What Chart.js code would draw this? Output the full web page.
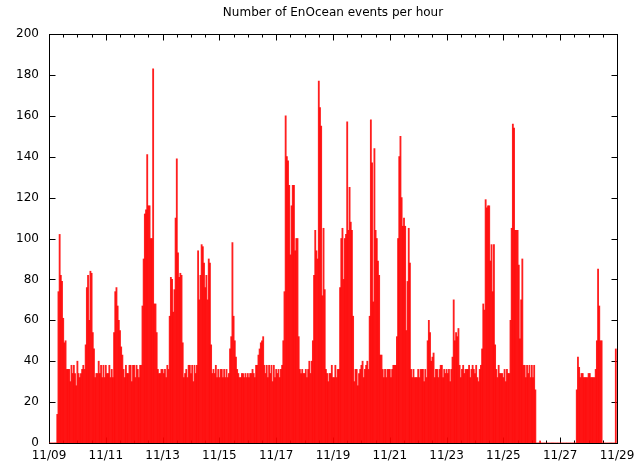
<!DOCTYPE html>
<html>
<head>
<meta charset="utf-8">
<script src="https://cdn.jsdelivr.net/npm/chart.js@4.4.1/dist/chart.umd.min.js"></script>
<style>
  html, body { margin: 0; padding: 0; background: #fff; }
  #chart { display: block; }
</style>
</head>
<body>
<canvas id="chart" width="642" height="465"></canvas>
<script>
// events per hour, one array per day (hour 0..23)
const nov09 = [0, 0, 0, 0, 0, 0, 0, 14, 74, 102, 82, 79, 61, 49, 50, 36, 36, 36, 30, 38, 34, 38, 34, 28];
const nov10 = [40, 34, 32, 34, 36, 38, 36, 48, 76, 82, 60, 84, 83, 54, 46, 32, 34, 34, 40, 34, 38, 32, 38, 32];
const nov11 = [38, 34, 34, 38, 32, 36, 32, 54, 74, 76, 67, 60, 55, 47, 43, 36, 32, 38, 34, 34, 38, 38, 30, 38];
const nov12 = [38, 32, 38, 36, 32, 38, 38, 67, 90, 112, 114, 141, 116, 116, 100, 100, 183, 68, 68, 54, 36, 34, 34, 36];
const nov13 = [36, 34, 36, 32, 38, 36, 62, 81, 80, 64, 75, 110, 139, 93, 81, 83, 82, 49, 32, 34, 36, 32, 38, 38];
const nov14 = [34, 38, 30, 38, 34, 38, 94, 70, 82, 97, 96, 88, 76, 82, 70, 90, 88, 48, 34, 36, 34, 38, 32, 36];
const nov15 = [32, 36, 36, 32, 36, 32, 36, 32, 34, 46, 52, 98, 62, 50, 42, 36, 34, 32, 32, 34, 34, 32, 34, 32];
const nov16 = [34, 32, 34, 34, 36, 34, 32, 38, 38, 43, 46, 49, 50, 52, 38, 34, 38, 32, 38, 34, 38, 30, 38, 32];
const nov17 = [36, 34, 36, 32, 36, 38, 50, 74, 160, 140, 138, 126, 92, 116, 126, 126, 94, 100, 100, 52, 36, 34, 36, 34];
const nov18 = [34, 36, 32, 36, 40, 34, 40, 50, 82, 104, 94, 90, 177, 164, 155, 72, 105, 75, 36, 34, 30, 34, 34, 38];
const nov19 = [32, 32, 38, 32, 36, 36, 76, 100, 105, 80, 100, 102, 157, 104, 125, 108, 104, 62, 30, 36, 36, 28, 34, 36];
const nov20 = [38, 40, 32, 36, 38, 40, 36, 62, 158, 137, 69, 144, 104, 100, 89, 82, 43, 43, 36, 32, 36, 32, 36, 36];
const nov21 = [36, 32, 36, 38, 38, 38, 52, 100, 140, 150, 120, 106, 110, 106, 55, 79, 105, 88, 36, 32, 36, 32, 32, 32];
const nov22 = [36, 32, 36, 36, 36, 30, 36, 32, 50, 60, 54, 40, 42, 44, 32, 36, 36, 32, 36, 38, 38, 32, 36, 34];
const nov23 = [36, 34, 36, 30, 36, 42, 70, 50, 54, 52, 56, 38, 32, 36, 38, 34, 36, 36, 36, 38, 32, 36, 38, 36];
const nov24 = [34, 38, 32, 30, 36, 38, 46, 68, 65, 119, 115, 116, 116, 89, 97, 74, 97, 48, 36, 32, 38, 34, 34, 34];
const nov25 = [32, 36, 30, 36, 34, 34, 60, 105, 156, 154, 104, 104, 104, 87, 51, 70, 90, 38, 38, 32, 38, 34, 38, 32];
const nov26 = [38, 32, 38, 26, 0, 0, 0, 1, 0, 0, 0, 0, 0, 0, 0, 0, 0, 0, 0, 0, 0, 0, 0, 0];
const nov27 = [0, 0, 0, 0, 0, 0, 0, 0, 0, 0, 0, 0, 0, 0, 26, 42, 37, 32, 34, 34, 32, 32, 32, 32];
const nov28 = [34, 34, 32, 32, 32, 32, 36, 50, 85, 67, 50, 50, 0, 0, 0, 0, 0, 0, 0, 0, 0, 0, 0, 46];

const tickLabels = ["11/09", "11/11", "11/13", "11/15", "11/17", "11/19", "11/21", "11/23", "11/25", "11/27", "11/29"];
const title = "Number of EnOcean events per hour";

const days = [nov09, nov10, nov11, nov12, nov13, nov14, nov15, nov16, nov17, nov18,
              nov19, nov20, nov21, nov22, nov23, nov24, nov25, nov26, nov27, nov28];
const points = [];
days.forEach((day, d) => day.forEach((v, h) => points.push({ x: d * 24 + h, y: v })));

const FONT = "'DejaVu Sans', sans-serif";

// gnuplot-like frame with inward ticks, drawn under the bars
const framePlugin = {
    id: "frame",
    beforeDatasetsDraw(chart) {
        const { ctx, chartArea: a, scales } = chart;
        const l = Math.round(a.left) + 0.5, r = Math.round(a.right) + 0.5;
        const t = Math.round(a.top) + 0.5, b = Math.round(a.bottom) + 0.5;
        ctx.save();
        ctx.strokeStyle = "#000";
        ctx.lineWidth = 1;
        ctx.beginPath();
        for (let h = 0; h <= 480; h += 12) {
            const x = Math.round(scales.x.getPixelForValue(h)) + 0.5;
            const len = (h % 48 === 0) ? 6 : 3;
            ctx.moveTo(x, b); ctx.lineTo(x, b - len);
            ctx.moveTo(x, t); ctx.lineTo(x, t + len);
        }
        for (let v = 0; v <= 200; v += 20) {
            const y = Math.round(scales.y.getPixelForValue(v)) + 0.5;
            ctx.moveTo(l, y); ctx.lineTo(l + 6, y);
            ctx.moveTo(r, y); ctx.lineTo(r - 6, y);
        }
        ctx.stroke();
        ctx.strokeRect(l, t, r - l, b - t);
        ctx.restore();
    },
    afterDraw(chart) {
        const { ctx, chartArea: a } = chart;
        ctx.save();
        ctx.fillStyle = "#000";
        ctx.font = "12px " + FONT;
        ctx.textAlign = "center";
        ctx.textBaseline = "middle";
        ctx.fillText(title, (a.left + a.right) / 2, 12.5);
        ctx.restore();
    }
};

new Chart(document.getElementById("chart"), {
    type: "bar",
    data: {
        datasets: [{
            label: "events",
            data: points,
            backgroundColor: "rgba(255,0,0,0.88)",
            borderWidth: 0,
            barPercentage: 1,
            categoryPercentage: 1
        }]
    },
    options: {
        responsive: false,
        animation: false,
        layout: { padding: { left: 0, right: 25, top: 34, bottom: 0 } },
        plugins: {
            legend: { display: false },
            title: { display: false },
            tooltip: { enabled: false }
        },
        scales: {
            x: {
                type: "linear",
                offset: false,
                min: 0,
                max: 480,
                grid: { display: false, drawTicks: false },
                border: { display: false },
                afterFit: (s) => { s.height = 22; },
                ticks: {
                    stepSize: 48,
                    autoSkip: false,
                    maxRotation: 0,
                    padding: 6,
                    color: "#000",
                    font: { family: FONT, size: 12 },
                    callback: (v) => tickLabels[v / 48]
                }
            },
            y: {
                min: 0,
                max: 200,
                grid: { display: false, drawTicks: false },
                border: { display: false },
                afterFit: (s) => { s.width = 49; },
                ticks: {
                    stepSize: 20,
                    padding: 10,
                    color: "#000",
                    font: { family: FONT, size: 12 }
                }
            }
        }
    },
    plugins: [framePlugin]
});
</script>
</body>
</html>
